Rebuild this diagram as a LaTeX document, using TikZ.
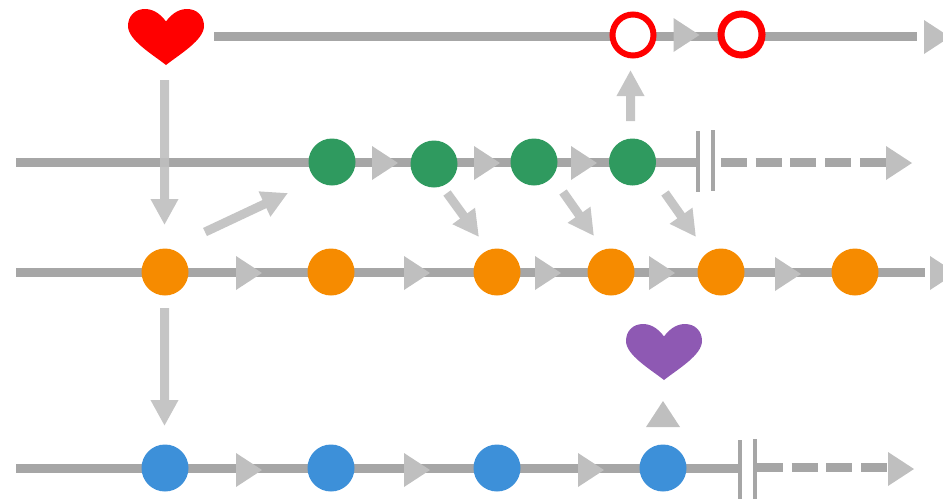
\documentclass[tikz,border=0pt]{standalone}
\usetikzlibrary{arrows.meta}
\definecolor{linegray}{HTML}{A6A6A6}
\definecolor{arrowgray}{HTML}{BFBFBF}
\definecolor{cgreen}{HTML}{2F9A5F}
\definecolor{corange}{HTML}{F68B00}
\definecolor{cblue}{HTML}{3D90D9}
\definecolor{cpurple}{HTML}{8E59B3}
\tikzset{
  dot/.style={circle,minimum size=47pt,inner sep=0pt,outer sep=0pt},
  gdot/.style={dot,fill=cgreen},
  odot/.style={dot,fill=corange},
  bdot/.style={dot,fill=cblue},
  ring/.style={circle,minimum size=41pt,inner sep=0pt,outer sep=0pt,draw=red,line width=6pt,fill=white},
  track/.style={draw=linegray,line width=9pt},
  dashtrack/.style={track,dash pattern=on 26pt off 8.7pt},
  bar/.style={draw=linegray,line width=4pt},
  marker/.style={fill=arrowgray},
  flow/.style={draw=arrowgray,line width=9pt,-{Triangle[length=26pt,width=26pt]}},
}
\newcommand{\trimark}[3]{\coordinate (#1) at (#2,#3);\fill[marker] (#1) ++(0,-17) -- ++(26,17) -- ++(-26,17) -- cycle;}
\newcommand{\heartshape}[4]{\coordinate (#1) at (#2,#3);
  \begin{scope}[shift={(#1)}]
  \fill[#4] (0,29) .. controls (-14,18) and (-38,4) .. (-38,-10)
    .. controls (-38,-20) and (-31,-27) .. (-21,-27)
    .. controls (-11,-27) and (-4,-20) .. (0,-14.5)
    .. controls (4,-20) and (11,-27) .. (21,-27)
    .. controls (31,-27) and (38,-20) .. (38,-10)
    .. controls (38,4) and (14,18) .. (0,29) -- cycle;
  \end{scope}}
\newcommand{\flowline}[2]{\begin{scope}[transparency group,opacity=.9]\draw[flow] (#1) -- (#2);\end{scope}}
\begin{document}
\begin{tikzpicture}[x=1pt,y=-1pt]
\useasboundingbox (0,0) rectangle (943,499);
% free ends
\coordinate (t0s) at (214,36); \coordinate (t0e) at (917,36);
\coordinate (r2s) at (16,162); \coordinate (r2e) at (698,162);
\coordinate (r3s) at (16,272); \coordinate (r3e) at (925,272);
\coordinate (r4s) at (16,468); \coordinate (r4e) at (740,468);
\coordinate (d2s) at (721,162.5); \coordinate (d2e) at (886,162.5);
\coordinate (d4s) at (757,467.5); \coordinate (d4e) at (888,467.5);
% tracks
\draw[track] (t0s) -- (t0e);
\draw[track] (r2s) -- (r2e);
\draw[track] (r3s) -- (r3e);
\draw[track] (r4s) -- (r4e);
\draw[dashtrack] (d2s) -- (d2e);
\draw[dashtrack] (d4s) -- (d4e);
% break bars
\coordinate (b1a) at (698,131); \coordinate (b1b) at (698,192);
\coordinate (b2a) at (713,130); \coordinate (b2b) at (713,191);
\coordinate (b3a) at (740,440); \coordinate (b3b) at (740,499);
\coordinate (b4a) at (755,439); \coordinate (b4b) at (755,499);
\draw[bar] (b1a) -- (b1b); \draw[bar] (b2a) -- (b2b);
\draw[bar] (b3a) -- (b3b); \draw[bar] (b4a) -- (b4b);
% track markers
\trimark{m1}{673.5}{35} \trimark{m2}{924}{37}
\trimark{m3}{372}{163} \trimark{m4}{474}{163} \trimark{m5}{571}{163} \trimark{m6}{886}{163}
\trimark{m7}{236}{273} \trimark{m8}{404}{273} \trimark{m9}{535}{273} \trimark{m10}{649}{273} \trimark{m11}{775}{274} \trimark{m12}{930}{273}
\trimark{m13}{236}{470} \trimark{m14}{404}{470} \trimark{m15}{578}{470} \trimark{m16}{888}{469}
% nodes
\node[ring] (c1) at (633,35) {};
\node[ring,line width=7pt] (c2) at (741.5,34.5) {};
\node[gdot] (g1) at (332,162) {};
\node[gdot] (g2) at (434,164) {};
\node[gdot] (g3) at (534,162) {};
\node[gdot] (g4) at (632.5,162) {};
\node[odot] (o1) at (165,272) {};
\node[odot] (o2) at (331,272) {};
\node[odot] (o3) at (497,272) {};
\node[odot] (o4) at (611,272) {};
\node[odot] (o5) at (721,272) {};
\node[odot] (o6) at (855,272) {};
\node[bdot] (b1) at (165,468) {};
\node[bdot] (b2) at (331,468) {};
\node[bdot] (b3) at (497,468) {};
\node[bdot] (b4) at (663,468) {};
\heartshape{h1}{166}{36}{red}
\heartshape{h2}{664}{351}{cpurple}
% flows
\coordinate (f1a) at (164.5,80); \coordinate (f1b) at (164.5,225);
\coordinate (f2a) at (164.5,308); \coordinate (f2b) at (164.5,426);
\coordinate (f3a) at (205,232); \coordinate (f3b) at (288,193);
\coordinate (f4a) at (447,193); \coordinate (f4b) at (479,237);
\coordinate (f5a) at (563,192); \coordinate (f5b) at (594,236);
\coordinate (f6a) at (665,193); \coordinate (f6b) at (696,237);
\coordinate (f7a) at (630.5,121); \coordinate (f7b) at (630.5,70);
\flowline{f1a}{f1b}
\flowline{f2a}{f2b}
\flowline{f3a}{f3b}
\flowline{f4a}{f4b}
\flowline{f5a}{f5b}
\flowline{f6a}{f6b}
\flowline{f7a}{f7b}
\coordinate (u1) at (663,401);
\fill[marker] (u1) -- ++(17,26) -- ++(-34,0) -- cycle;
\end{tikzpicture}
\end{document}
